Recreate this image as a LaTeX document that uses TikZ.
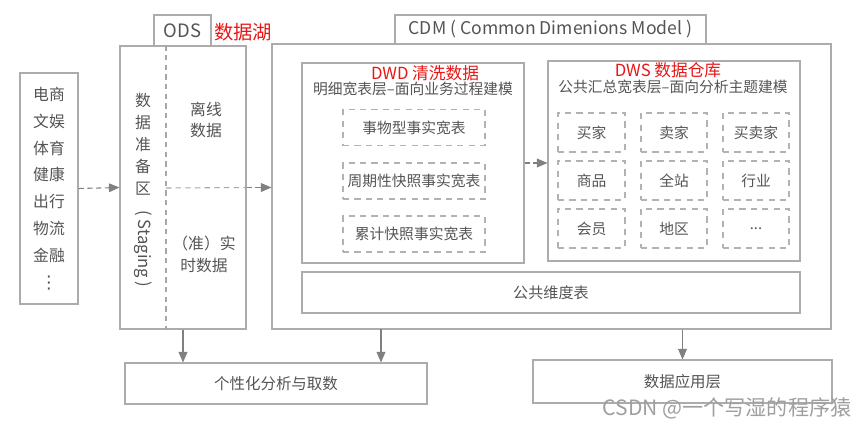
\documentclass[tikz,border=0pt]{standalone}
\usepackage{fontspec}
\setmainfont{Noto Sans CJK SC}
\newfontfamily\symfont{DejaVu Sans}
\usetikzlibrary{arrows.meta}
\definecolor{ink}{gray}{0.33}
\definecolor{tagred}{RGB}{232,22,22}
\newlength\pxu \setlength\pxu{0.02cm}
\tikzset{
  boxframe/.style 2 args={draw=gray!65, line width=0.6pt,
    minimum width=#1\pxu, minimum height=#2\pxu, inner sep=0pt, text=ink},
  gridcell/.style 2 args={draw=gray!60, line width=0.6pt, dash pattern=on 3.5pt off 3pt,
    minimum width=#1\pxu, minimum height=#2\pxu, inner sep=0pt, text=ink,
    font=\fontsize{8.4}{10}\selectfont},
  divider/.style={draw=gray!70, line width=0.6pt, dash pattern=on 3pt off 2.5pt},
  flow/.style={-{Triangle[length=6pt,width=5pt]}, draw=gray, line width=0.6pt},
  txt/.style={text=ink, align=center, inner sep=0pt},
  redtag/.style={text=tagred, inner sep=0pt, font=\fontsize{9.5}{11}\selectfont},
}
\begin{document}
\begin{tikzpicture}[x=0.02cm, y=-0.02cm]
  \useasboundingbox (0,0) rectangle (855,427);

  % 1. 数据源
  \node[boxframe={58}{231}, align=center, font=\fontsize{9}{15.3}\selectfont] (src) at (49,188.5)
    {电商\\文娱\\体育\\健康\\出行\\物流\\金融\\{\symfont\fontsize{10}{10}\selectfont ⋮}};

  % 2. ODS 数据湖
  \node[boxframe={57}{31}, font=\fontsize{10.5}{12}\selectfont] (odstab) at (182.5,30.5) {ODS};
  \node[boxframe={126}{283}] (ods) at (183,187.5) {};
  \node[redtag, font=\fontsize{11}{13}\selectfont] (lake) at (243,32) {数据湖};
  \coordinate (split) at (166,188);
  \draw[divider] (ods.north -| split) -- (ods.south -| split);
  \draw[divider] (split) -- (ods.east);
  \node[txt, font=\fontsize{9}{12.5}\selectfont] (stgcn) at (143,144) {数\\据\\准\\备\\区};
  \node[txt, rotate=-90, font=\fontsize{9.5}{11}\selectfont] (stgen) at (143,249) {( Staging )};
  \node[txt, font=\fontsize{9}{12}\selectfont] (offline) at (206,120) {离线\\数据};
  \node[txt, font=\fontsize{9}{12.5}\selectfont] (rt) at (204,254) {（准）实\\时数据};

  % 3. CDM
  \node[boxframe={311}{29}, font=\fontsize{10}{12}\selectfont] (cdmtab) at (550.5,29.5)
    {CDM ( Common Dimenions Model )};
  \node[boxframe={559}{285}] (cdm) at (551.5,186.5) {};

  % DWD 清洗数据
  \node[boxframe={222}{200}] (dwd) at (413,163) {};
  \node[redtag] (dwdtag) at (425,73) {DWD 清洗数据};
  \node[txt, font=\fontsize{8.4}{10}\selectfont] (dwdhead) at (413,89) {明细宽表层–面向业务过程建模};
  \node[gridcell={142}{36}] (fact1) at (414,127.5) {事物型事实宽表};
  \node[gridcell={142}{36}] (fact2) at (414,181) {周期性快照事实宽表};
  \node[gridcell={142}{36}] (fact3) at (414,234) {累计快照事实宽表};

  % DWS 数据仓库
  \node[boxframe={252}{200}] (dws) at (674,161) {};
  \node[redtag] (dwstag) at (668,70) {DWS 数据仓库};
  \node[txt, font=\fontsize{8.4}{10}\selectfont] (dwshead) at (673,87) {公共汇总宽表层–面向分析主题建模};
  \node[gridcell={67}{39}] (buyer)  at (591.5,132.5) {买家};
  \node[gridcell={66}{39}] (seller) at (674,132.5) {卖家};
  \node[gridcell={66}{39}] (both)   at (756,132.5) {买卖家};
  \node[gridcell={67}{39}] (goods)  at (591.5,180.5) {商品};
  \node[gridcell={66}{39}] (site)   at (674,180.5) {全站};
  \node[gridcell={66}{39}] (trade)  at (756,180.5) {行业};
  \node[gridcell={67}{39}] (member) at (591.5,228.5) {会员};
  \node[gridcell={66}{39}] (region) at (674,228.5) {地区};
  \node[gridcell={66}{39}] (more)   at (756,228.5) {...};

  % 公共维度表
  \node[boxframe={498}{41}, font=\fontsize{8.6}{10}\selectfont] (dim) at (551,292.5) {公共维度表};

  % 4. 下游
  \node[boxframe={302}{41}, font=\fontsize{8.8}{10}\selectfont] (pers) at (276,383.5) {个性化分析与取数};
  \node[boxframe={299}{43}, font=\fontsize{8.8}{10}\selectfont] (app) at (682.5,381.5) {数据应用层};

  % 箭头
  \draw[flow, dash pattern=on 3pt off 2pt] (src.east) -- (ods.west);
  \draw[flow, dash pattern=on 3pt off 2pt] (ods.east) -- (ods.east -| cdm.west);
  \draw[flow, dash pattern=on 3pt off 2pt] (dwd.east) -- (dwd.east -| dws.west);
  \draw[flow] (ods.south) -- (ods.south |- pers.north);
  \coordinate (cdmout) at (381,329);
  \draw[flow] (cdmout) -- (cdmout |- pers.north);
  \draw[flow] (app.north |- cdm.south) -- (app.north);

  % 水印
  \node[text=gray!75, inner sep=0pt, font=\fontsize{12}{14}\selectfont] (wm) at (727,408) {CSDN @一个写湿的程序猿};
\end{tikzpicture}
\end{document}
